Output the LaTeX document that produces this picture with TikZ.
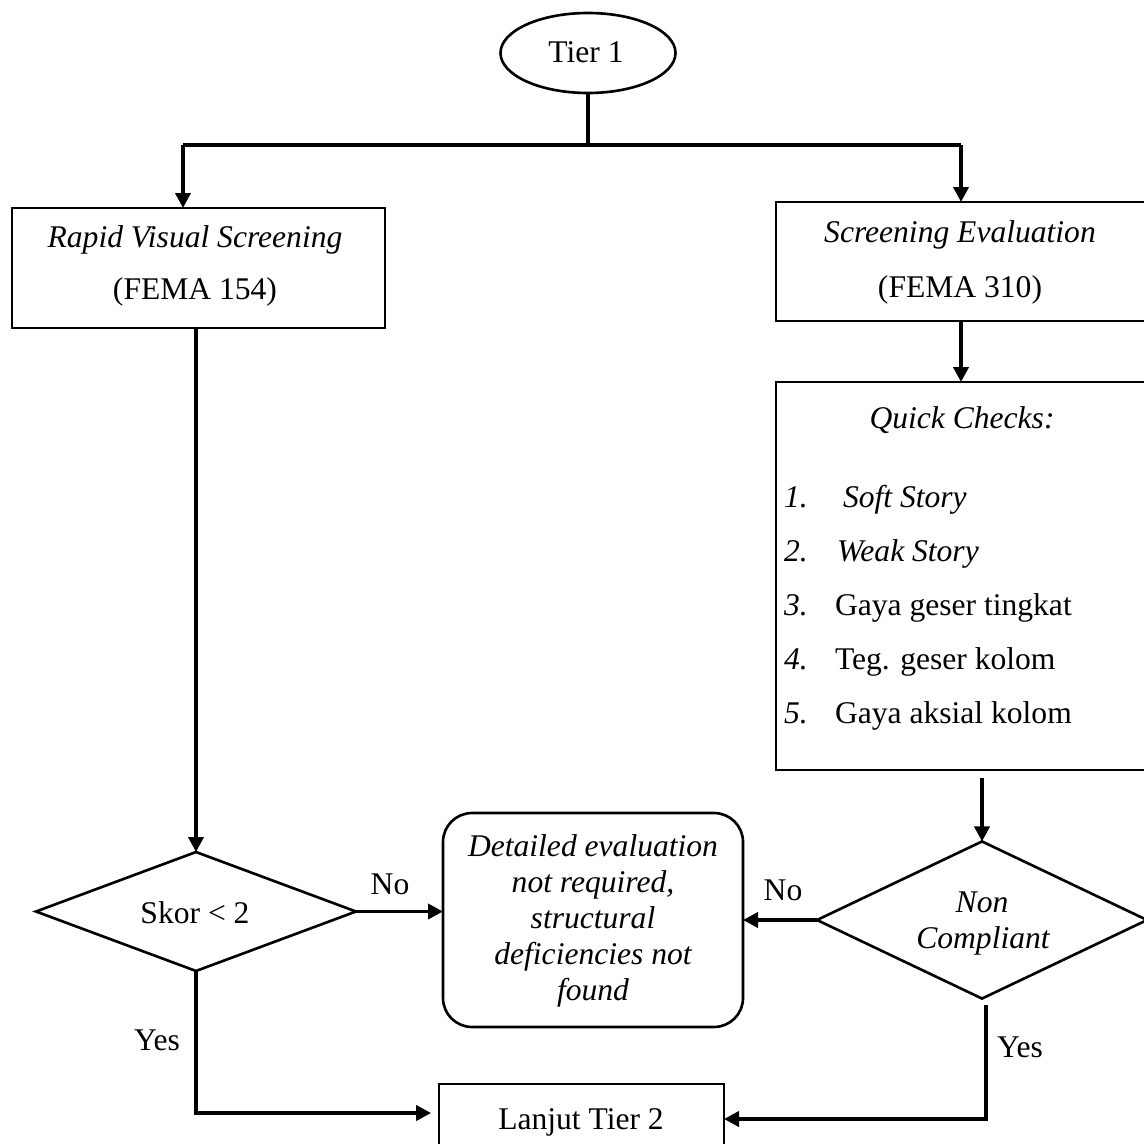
\documentclass[tikz,border=0pt]{standalone}
\usepackage{fontspec}
\setmainfont{Liberation Serif}
\usetikzlibrary{shapes.geometric,arrows.meta}
\begin{document}
\begin{tikzpicture}[x=0.38pt,y=-0.38pt,
  every node/.style={font=\fontsize{12}{13.7}\selectfont, inner sep=0pt, outer sep=0pt},
  shp/.style={draw, line width=1pt},
  boxnode/.style={shp, rectangle},
  dia/.style={shp, diamond, aspect=2},
  conn/.style={line width=1.4pt},
  arr/.style={conn, -{Triangle[length=5.7pt,width=5.7pt]}},
  txt/.style={anchor=base},
  lbl/.style={anchor=base}
]
\useasboundingbox (0,0) rectangle (1144,1144);
\clip (0,0) rectangle (1144,1144);

% shapes
\node[shp, ellipse, minimum width=66.5pt, minimum height=30.4pt] (tier) at (588,53) {};
\node[txt] (tiert) at (586,63) {Tier 1};

\node[boxnode, minimum width=141.7pt, minimum height=45.6pt] (rvs) at (198.5,268) {};
\node[txt] (rvs1) at (195,247) {\itshape Rapid Visual Screening};
\node[txt] (rvs2) at (195,299) {(FEMA 154)};

\node[boxnode, minimum width=140.6pt, minimum height=45.2pt] (se) at (961,261.5) {};
\node[txt] (se1) at (960,242) {\itshape Screening Evaluation};
\node[txt] (se2) at (960,297) {(FEMA 310)};

\node[boxnode, minimum width=140.6pt, minimum height=147.4pt] (qc) at (961,576) {};
\node[txt] (qct) at (962,428) {\itshape Quick Checks:};
\node[txt, anchor=base west] (n1) at (784,507) {\itshape 1.};
\node[txt, anchor=base west] (q1) at (843,507) {\itshape Soft Story};
\node[txt, anchor=base west] (n2) at (784,561) {\itshape 2.};
\node[txt, anchor=base west] (q2) at (837,561) {\itshape Weak Story};
\node[txt, anchor=base west] (n3) at (784,615) {\itshape 3.};
\node[txt, anchor=base west] (q3) at (835,615) {Gaya geser tingkat};
\node[txt, anchor=base west] (n4) at (784,669) {\itshape 4.};
\node[txt, anchor=base west] (q4) at (835,669) {Teg. geser kolom};
\node[txt, anchor=base west] (n5) at (784,723) {\itshape 5.};
\node[txt, anchor=base west] (q5) at (835,723) {Gaya aksial kolom};

\node[dia, minimum width=121.6pt, minimum height=45.2pt] (skor) at (196,911.5) {};
\node[txt] (skort) at (195,923) {Skor < 2};

\node[dia, minimum width=125.4pt, minimum height=59.7pt] (nc) at (982,920) {};
\node[txt] (nct1) at (982,912) {\itshape Non};
\node[txt] (nct2) at (983,948) {\itshape Compliant};

\node[shp, rectangle, rounded corners=11pt, minimum width=114pt, minimum height=81.3pt] (rb) at (593,920) {};
\node[align=center, font=\fontsize{12}{13.7}\selectfont\itshape] (rbt) at (593,921)
  {Detailed evaluation\\not required,\\structural\\deficiencies not\\found};

\node[boxnode, minimum width=108.3pt, minimum height=23.6pt] (lt) at (581.5,1115) {};
\node[txt] (ltt) at (581,1129) {Lanjut Tier 2};

% junction coordinates
\coordinate (jl) at (183,145);
\coordinate (jr) at (961,145);
\coordinate (ya) at (196,1113);
\coordinate (yb) at (986,1119);

% connectors
\draw[conn] (tier.south) -- (tier.south |- jl);
\draw[conn] (jl) -- (jr);
\draw[arr] (jl) -- (jl |- rvs.north);
\draw[arr] (jr) -- (jr |- se.north);
\draw[arr] (rvs.south -| skor.north) -- (skor.north);
\draw[arr] (se.south) -- (qc.north);
\draw[arr] ([yshift=-3pt]qc.south -| nc.north) -- (nc.north);
\draw[arr] (skor.east) -- (skor.east -| rb.west);
\draw[arr] (nc.west) -- (nc.west -| rb.east);
\draw[arr, shorten >=3pt] (skor.south) -- (ya) -- (ya -| lt.west);
\draw[arr] ([xshift=1.5pt,yshift=-2.5pt]nc.south) -- (yb) -- (yb -| lt.east);

% labels
\node[lbl] (no1) at (390,894) {No};
\node[lbl] (no2) at (783,900) {No};
\node[lbl] (yes1) at (157,1050) {Yes};
\node[lbl] (yes2) at (1020,1057) {Yes};
\end{tikzpicture}
\end{document}
